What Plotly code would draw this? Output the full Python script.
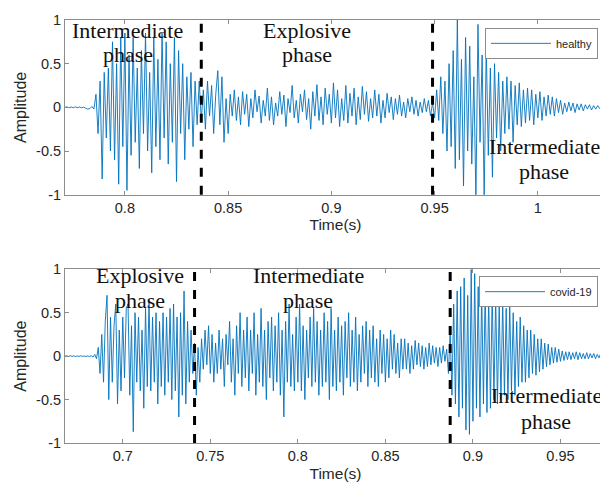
import plotly.graph_objects as go
from plotly.subplots import make_subplots

# ---------------- data ----------------
# sampling (s)
healthy_t0 = 0.771
covid_t0 = 0.667
sample_dt = 0.001

healthy_amp = [
    # pre-onset
    0, 0.005, -0.005, 0.004, -0.004, 0.006, -0.003, 0.004, -0.005, 0.003, -0.01, -0.02, -0.015, 0.01, -0.02,
    # intermediate phase
    0.15, -0.3, 0.3, -0.82, 0.4, -0.35, 0.45, -0.5, 0.75, -0.6,
    0.5, -0.88, 0.8, -0.45, 0.85, -0.95, 0.6, -0.55, 0.8, -0.4,
    0.45, -0.7, 0.65, -0.3, 0.85, -0.5, 0.4, -0.75, 0.8, -0.45,
    0.55, -0.6, 0.85, -0.35, 0.75, -0.65, 0.5, -0.4, 0.8, -0.85,
    0.65, -0.3, 0.5, -0.6, 0.35, -0.25, 0.4, -0.45, 0.3, -0.2,
    0.3, -0.15,
    # explosive phase
    0.2, -0.25, 0.3, -0.1, 0.25, -0.3, 0.15, 0.42, -0.2, 0.35,
    -0.4, 0.1, -0.3, 0.15, -0.1, 0.2, -0.15, 0.12, -0.2, 0.18,
    -0.08, 0.15, -0.22,
    0.1, -0.12, 0.2, -0.05, 0.13, -0.18, 0.08, -0.1, 0.22, -0.15,
    0.12, -0.2, 0.05, -0.1, 0.18, -0.08, 0.14, -0.22, 0.1, -0.06,
    0.25, -0.12, 0.08, -0.18, 0.15, -0.05, 0.2, -0.14, 0.1, -0.25,
    0.18, -0.1, 0.26, -0.15, 0.12, -0.2, 0.22, -0.08, 0.15, -0.18,
    0.28, -0.12, 0.2, -0.22, 0.1, -0.15, 0.25, -0.18, 0.16, -0.1,
    0.22, -0.2, 0.12, -0.14, 0.24, -0.08, 0.18, -0.16, 0.1, -0.12,
    0.2, -0.1, 0.15, -0.18, 0.08, -0.12, 0.16, -0.06, 0.12, -0.14,
    0.1, -0.08, 0.14, -0.1, 0.06, -0.12, 0.1, -0.05, 0.12, -0.08,
    0.08, -0.1, 0.06, -0.06, 0.1, -0.05, 0.08, -0.1, 0.05,
    # intermediate phase
    -0.12, 0.2, -0.15, 0.35, -0.3, 0.3, -0.5, 0.5, -0.45, 0.65,
    -0.7, 1.0, -0.6, 0.55, -0.9, 0.8, -0.5, 0.7, -0.65, 0.35,
    -1.05, 0.95, -0.4, 0.6, -1.05, 0.7, -0.55, 0.45, -0.8, 0.5,
    -0.35, 0.4, -0.5, 0.3, -0.3, 0.35, -0.25, 0.3, -0.4, 0.25,
    -0.2, 0.28, -0.22, 0.2, -0.18, 0.22, -0.15, 0.2, -0.2, 0.15,
    -0.12, 0.18, -0.15, 0.12, -0.1, 0.14, -0.08, 0.12, -0.1, 0.1,
    -0.06, 0.08, -0.08, 0.05, -0.05, 0.06, -0.04, 0.05, -0.06, 0.04,
    -0.03, 0.04, -0.04, 0.03, -0.02, 0.03, -0.03, 0.02, -0.02, 0.02,
    -0.015, 0.015, -0.01, 0.01,
]

covid_amp = [
    # pre-onset
    0, 0.003, -0.003, 0.004, -0.002, 0.003, -0.004, 0.002, -0.003, 0.004,
    -0.003, 0.002, -0.004, 0.003, -0.005, 0.005, -0.01, 0.02, -0.03,
    # explosive phase
    0.1, -0.2, 0.25, -0.3, 0.4, 0.7, -0.5, 0.45, -0.3, 0.35,
    0.6, -0.55, 0.3, -0.4, 0.45, -0.25, 0.55, 0.6, -0.45, 0.35,
    -0.87, 0.5, -0.3, 0.45, -0.4, 0.3, -0.6, 0.55, -0.35, 0.65,
    -0.4, 0.45, -0.3, 0.5, -0.55, 0.4, -0.35, 0.5, -0.45, 0.45,
    -0.3, 0.55, -0.5, 0.6, -0.4, 0.45, -0.7, 0.5, -0.45, 0.75,
    -0.55, 0.4, -0.3,
    # intermediate phase
    0.3, -0.2, 0.15, -0.45, 0.1, -0.3, 0.2, -0.15, 0.3, -0.1, 0.35, -0.2,
    0.25, -0.3, 0.15, -0.2, 0.3, -0.15, 0.2, -0.35, 0.25, -0.1,
    0.4, -0.3, 0.2, -0.45, 0.35, -0.2, 0.5, -0.35, 0.3, -0.25,
    0.45, -0.4, 0.3, -0.2, 0.5, -0.45, 0.25, -0.3, 0.55, -0.35,
    0.3, -0.5, 0.4, -0.25, 0.45, -0.4, 0.35, -0.3, 0.5, -0.45,
    0.3, -0.7, 0.4, -0.3, 0.6, -0.35, 0.25, -0.4, 0.45, -0.3,
    0.6, -0.4, 0.35, -0.5, 0.3, -0.25, 0.45, -0.35, 0.55, -0.3,
    0.4, -0.45, 0.3, -0.35, 0.5, -0.3, 0.4, -0.5, 0.55, -0.35,
    0.3, -0.4, 0.45, -0.3, 0.35, -0.45, 0.4, -0.25, 0.5, -0.35,
    0.3, -0.3, 0.45, -0.4, 0.25, -0.3, 0.35, -0.2, 0.4, -0.35,
    0.3, -0.25, 0.35, -0.3, 0.2, -0.35, 0.3, -0.2, 0.25, -0.3,
    0.2, -0.25, 0.3, -0.15, 0.25, -0.2, 0.15, -0.25, 0.2, -0.15,
    0.2, -0.15, 0.15, -0.2, 0.12, -0.15, 0.18, -0.1, 0.15, -0.12,
    0.12, -0.15, 0.1, -0.12, 0.15, -0.1, 0.12, -0.08, 0.1, -0.12,
    0.1, -0.08, 0.12, -0.06, 0.08,
    # intermediate phase
    -0.2, 0.3, -0.45, 0.6, -0.55, 0.75, -0.7, 0.8, -0.6, 0.9,
    -0.85, 0.7, -0.9, 1.0, -0.75, 0.95, -0.6, 0.8, -0.7, 0.75,
    -0.55, 0.8, -0.65, 0.7, -0.6, 0.75, -0.5, 0.7, -0.55, 0.6,
    -0.5, 0.65, -0.45, 0.55, -0.5, 0.6, -0.4, 0.5, -0.45, 0.4,
    -0.35, 0.45, -0.3, 0.35, -0.3, 0.3, -0.25, 0.3, -0.2, 0.25,
    -0.22, 0.2, -0.18, 0.2, -0.15, 0.15, -0.12, 0.14, -0.1, 0.1,
    -0.08, 0.1, -0.07, 0.08, -0.06, 0.06, -0.05, 0.05, -0.04, 0.05,
    -0.04, 0.04, -0.03, 0.05, -0.04, 0.04, -0.03, 0.03, -0.03, 0.04,
    -0.03, 0.03, -0.02, 0.03, -0.03, 0.02, -0.02, 0.03, -0.02, 0.02,
    -0.02,
]

healthy_boundaries = [0.837, 0.949]
covid_boundaries = [0.741, 0.887]

# phase labels, one entry per text line: (text, time, amplitude)
healthy_label_lines = [
    ("Intermediate", 0.8014, 0.88), ("phase", 0.8014, 0.6),
    ("Explosive", 0.8884, 0.88), ("phase", 0.8884, 0.6),
    ("Intermediate", 1.003, -0.45), ("phase", 1.003, -0.74),
]
covid_label_lines = [
    ("Explosive", 0.7097, 0.93), ("phase", 0.7097, 0.64),
    ("Intermediate", 0.8058, 0.93), ("phase", 0.8058, 0.64),
    ("Intermediate", 0.942, -0.45), ("phase", 0.942, -0.75),
]

healthy_xticks = [0.8, 0.85, 0.9, 0.95, 1]
healthy_xticklabels = ["0.8", "0.85", "0.9", "0.95", "1"]
covid_xticks = [0.7, 0.75, 0.8, 0.85, 0.9, 0.95]
covid_xticklabels = ["0.7", "0.75", "0.8", "0.85", "0.9", "0.95"]
yticks = [-1, -0.5, 0, 0.5, 1]
yticklabels = ["-1", "-0.5", "0", "0.5", "1"]

healthy_t = [healthy_t0 + i * sample_dt for i in range(len(healthy_amp))]
covid_t = [covid_t0 + i * sample_dt for i in range(len(covid_amp))]

# ---------------- figure ----------------
W, H = 608, 487
OFF = 8  # page offset of the plot in the browser
TOP_PX, BOT_PX = 12, 443
ML, MR, MT, MB = 65 - OFF, 10, TOP_PX - OFF, 487 - (BOT_PX - OFF)
PH = H - MT - MB
PW = W - ML - MR


def ypaper(py):
    return (BOT_PX - py) / PH


def xpaper(px):
    return (px - 65) / PW


fig = make_subplots(rows=2, cols=1)
line_col = "#0072BD"
fig.add_trace(go.Scatter(x=healthy_t, y=healthy_amp, mode="lines", name="healthy",
                         line=dict(color=line_col, width=0.9), legend="legend"), row=1, col=1)
fig.add_trace(go.Scatter(x=covid_t, y=covid_amp, mode="lines", name="covid-19",
                         line=dict(color=line_col, width=0.9), legend="legend2"), row=2, col=1)

axis_col = "#8c8c8c"
text_col = "#262626"
font_sans = "Liberation Sans, Arial, sans-serif"
font_serif = "Liberation Serif, Times New Roman, serif"

common_axis = dict(showline=True, linecolor=axis_col, linewidth=1, mirror="ticks",
                   ticks="inside", ticklen=4, tickcolor=axis_col, showgrid=False,
                   zeroline=False, tickfont=dict(family=font_sans, size=14.5, color=text_col))

top_dom = [ypaper(190), ypaper(TOP_PX)]
bot_dom = [ypaper(BOT_PX), ypaper(266)]

tfont = dict(family=font_sans, size=15.5, color=text_col)
ytitle = dict(text="Amplitude", font=dict(family=font_sans, size=16, color=text_col), standoff=5)
leg_common = dict(xref="paper", yref="paper", xanchor="right", yanchor="top",
                  bgcolor="white", bordercolor="#8c8c8c", borderwidth=1,
                  font=dict(family=font_sans, size=11, color=text_col),
                  tracegroupgap=0, itemwidth=60)

fig.update_layout(
    width=W, height=H, margin=dict(l=ML, r=MR, t=MT, b=MB),
    plot_bgcolor="white", paper_bgcolor="white",
    xaxis=dict(range=[0.771, 1.033], tickvals=healthy_xticks, ticktext=healthy_xticklabels,
               title=dict(text="Time(s)", font=tfont, standoff=4), **common_axis),
    yaxis=dict(range=[-1, 1], tickvals=yticks, ticktext=yticklabels, domain=top_dom,
               title=ytitle, **common_axis),
    xaxis2=dict(range=[0.667, 0.976], tickvals=covid_xticks, ticktext=covid_xticklabels,
                title=dict(text="Time(s)", font=tfont, standoff=4), **common_axis),
    yaxis2=dict(range=[-1, 1], tickvals=yticks, ticktext=yticklabels, domain=bot_dom,
                title=ytitle, **common_axis),
    legend=dict(x=xpaper(598), y=ypaper(20), **leg_common),
    legend2=dict(x=xpaper(598), y=ypaper(273), **leg_common),
    showlegend=True,
)

# phase boundaries (dashed)
for xb in healthy_boundaries:
    fig.add_shape(type="line", x0=xb, x1=xb, y0=0, y1=1, xref="x", yref="y domain",
                  line=dict(color="black", width=3, dash="dash"))
for xb in covid_boundaries:
    fig.add_shape(type="line", x0=xb, x1=xb, y0=0, y1=1, xref="x2", yref="y2 domain",
                  line=dict(color="black", width=3, dash="dash"))

# phase labels
ann_font = dict(family=font_serif, size=22, color="#111111")
for txt, xx, yy in healthy_label_lines:
    fig.add_annotation(x=xx, y=yy, xref="x", yref="y", text=txt, showarrow=False, font=ann_font)
for txt, xx, yy in covid_label_lines:
    fig.add_annotation(x=xx, y=yy, xref="x2", yref="y2", text=txt, showarrow=False, font=ann_font)

fig.write_html("out.html")
